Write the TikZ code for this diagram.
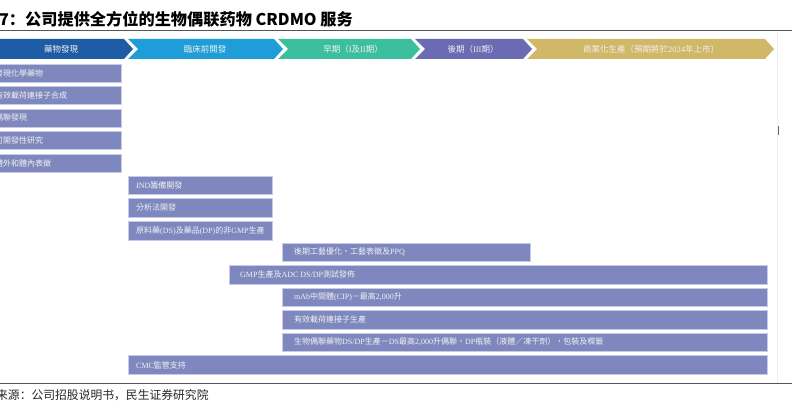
\documentclass[tikz,border=0pt]{standalone}
\usepackage{fontspec}
\setmainfont{Liberation Serif}
\newfontfamily\tcfont{Noto Sans CJK TC}
\newfontfamily\scfont{Noto Sans CJK SC}
\newcommand\latn[1]{{\rmfamily #1}}
\definecolor{cA}{HTML}{1E5CA6}
\definecolor{cB}{HTML}{1E9DD8}
\definecolor{cC}{HTML}{3CBF9F}
\definecolor{cD}{HTML}{6A6BB3}
\definecolor{cE}{HTML}{D1B868}
\definecolor{barfill}{HTML}{7F88BE}
\definecolor{barline}{HTML}{C8CBE6}
\definecolor{rulegray}{HTML}{555555}
\tikzset{
  chev/.style={draw=none},
  chevtext/.style={text=white!94!black, font=\tcfont\fontsize{8.5}{10}\selectfont, inner sep=0pt},
  barbox/.style={fill=barfill, draw=barline, line width=0.9pt},
  bartext/.style={anchor=west, text=white!95!black, font=\tcfont\fontsize{8}{10}\selectfont, inner sep=0pt},
}
\begin{document}
\begin{tikzpicture}[x=1pt,y=-1pt]
\useasboundingbox (0,0) rectangle (792,401);
\clip (0,0) rectangle (792,401);
\fill[white] (0,0) rectangle (792,401);
% title
\node[anchor=base east, inner sep=0pt, font=\scfont\bfseries\fontsize{16.2}{18}\selectfont] (title) at (353,26) {图7：公司提供全方位的生物偶联药物 CRDMO 服务};
\draw[rulegray, line width=1.6pt] (0,30.5) -- (792,30.5);
% faint page edge
\draw[black!6, line width=0.8pt] (777.5,32) -- (777.5,383);
\draw[black!60, line width=1pt] (778.5,126) -- (778.5,135);
% chevrons
\fill[cA] (-5,39) -- (124,39) -- (133,49) -- (124,59) -- (-5,59) -- cycle;
\fill[cB] (128,39) -- (274,39) -- (283,49) -- (274,59) -- (128,59) -- (138,49) -- cycle;
\fill[cC] (278,39) -- (411,39) -- (420,49) -- (411,59) -- (278,59) -- (288,49) -- cycle;
\fill[cD] (415,39) -- (523,39) -- (532,49) -- (523,59) -- (415,59) -- (425,49) -- cycle;
\fill[cE] (527,39) -- (765,39) -- (774,49) -- (765,59) -- (527,59) -- (537,49) -- cycle;
\node[chevtext] (p1) at (61,49) {藥物發現};
\node[chevtext] (p2) at (205,49) {臨床前開發};
\node[chevtext] (p3) at (353,49) {早期（\latn{I}及\latn{II}期）};
\node[chevtext] (p4) at (473,49) {後期（\latn{III}期）};
\node[chevtext] (p5) at (651,49) {商業化生產（預期將於\latn{2024}年上市）};
% left column bars
\draw[barbox] (-5,64) rectangle (121,82);
\node[bartext] (b1) at (-5,73) {發現化學藥物};
\draw[barbox] (-5,86.5) rectangle (121,104.5);
\node[bartext] (b2) at (-5,95.5) {有效載荷連接子合成};
\draw[barbox] (-5,109) rectangle (121,127);
\node[bartext] (b3) at (-5,118) {偶聯發現};
\draw[barbox] (-5,131.5) rectangle (121,149.5);
\node[bartext] (b4) at (-5,140.5) {可開發性研究};
\draw[barbox] (-5,154) rectangle (121,172);
\node[bartext] (b5) at (-5,163) {體外和體內表徵};
% preclinical bars
\draw[barbox] (128,176) rectangle (272,194.5);
\node[bartext] (b6) at (136,185) {\latn{IND}籌備開發};
\draw[barbox] (128,198.5) rectangle (272,217);
\node[bartext] (b7) at (136,207.5) {分析法開發};
\draw[barbox] (128,221) rectangle (272,240);
\node[bartext] (b8) at (136,230.5) {原料藥\latn{(DS)}及藥品\latn{(DP)}的非\latn{GMP}生產};
\draw[barbox] (282,243) rectangle (530,261.5);
\node[bartext] (b9) at (294,252) {後期工藝優化、工藝表徵及\latn{PPQ}};
\draw[barbox] (229,265.5) rectangle (767,284);
\node[bartext] (b10) at (240,274.5) {\latn{GMP}生產及\latn{ADC DS/DP}測試發佈};
\draw[barbox] (282,288) rectangle (767,306.5);
\node[bartext] (b11) at (294,297) {\latn{mAb}中間體\latn{(CIP)}－最高\latn{2,000}升};
\draw[barbox] (282,310.5) rectangle (767,329);
\node[bartext] (b12) at (294,319.5) {有效載荷連接子生產};
\draw[barbox] (282,333) rectangle (767,351.5);
\node[bartext] (b13) at (294,342) {生物偶聯藥物\latn{DS/DP}生產－\latn{DS}最高\latn{2,000}升偶聯，\latn{DP}瓶裝（液體／凍干劑），包裝及標籤};
\draw[barbox] (128,355.5) rectangle (767,374);
\node[bartext] (b14) at (136,365) {\latn{CMC}監管支持};
% bottom rule and source
\draw[rulegray, line width=1.6pt] (0,383.5) -- (792,383.5);
\node[anchor=base west, inner sep=0pt, font=\scfont\fontsize{11.8}{13}\selectfont, text=black!85] (src) at (-27.6,399) {资料来源：公司招股说明书，民生证券研究院};
\end{tikzpicture}
\end{document}
